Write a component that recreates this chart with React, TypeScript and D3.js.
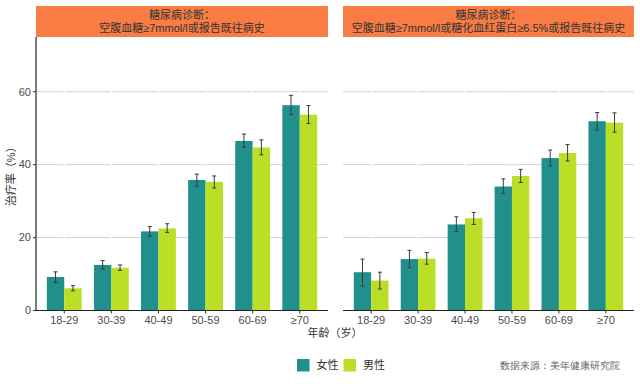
import React from "react";
import * as d3 from "d3";

const ageGroups = ["18-29", "30-39", "40-49", "50-59", "60-69", "≥70"];
const sexes = ["女性", "男性"];
const panelTitles = [
  ["糖尿病诊断：", "空腹血糖≥7mmol/l或报告既往病史"],
  ["糖尿病诊断：", "空腹血糖≥7mmol/l或糖化血红蛋白≥6.5%或报告既往病史"],
];

// panel 1
const p1Female = [9.2, 12.5, 21.7, 35.8, 46.5, 56.3];
const p1FemaleLo = [7.7, 11.4, 20.4, 34.1, 44.8, 53.7];
const p1FemaleHi = [10.6, 13.7, 23.0, 37.4, 48.4, 59.0];
const p1Male = [6.1, 11.7, 22.5, 35.3, 44.7, 53.7];
const p1MaleLo = [5.4, 11.0, 21.4, 33.6, 42.7, 51.3];
const p1MaleHi = [6.8, 12.5, 23.8, 36.9, 46.8, 56.2];
// panel 2
const p2Female = [10.5, 14.1, 23.6, 34.0, 41.8, 51.9];
const p2FemaleLo = [6.7, 11.7, 21.6, 32.1, 39.6, 49.5];
const p2FemaleHi = [14.1, 16.5, 25.7, 36.1, 44.0, 54.3];
const p2Male = [8.2, 14.2, 25.3, 36.9, 43.2, 51.5];
const p2MaleLo = [5.9, 12.7, 23.6, 35.1, 41.0, 48.9];
const p2MaleHi = [10.5, 15.9, 26.9, 38.7, 45.5, 54.2];

const yTicks = [0, 20, 40, 60];
const yLabel = "治疗率（%）";
const xLabel = "年龄（岁）";
const source = "数据来源：美年健康研究院";

const panels = [
  { female: p1Female, femaleLo: p1FemaleLo, femaleHi: p1FemaleHi, male: p1Male, maleLo: p1MaleLo, maleHi: p1MaleHi },
  { female: p2Female, femaleLo: p2FemaleLo, femaleHi: p2FemaleHi, male: p2Male, maleLo: p2MaleLo, maleHi: p2MaleHi },
];

const colors = ["#21908C", "#BBDF27"];
const stripColor = "#F97C44";
const font = "'Liberation Sans', 'Noto Sans CJK SC', Arial, sans-serif";

export default function App() {
  const W = 640, H = 384;
  const top = 37, bottom = 310.5;
  const panelX = [[36, 328], [343, 634]];
  const y = d3.scaleLinear().domain([0, 75]).range([bottom, top]);

  return (
    <svg width={W} height={H} style={{ position: "absolute", left: 0, top: 0, background: "#fff" }} fontFamily={font}>
      <rect width={W} height={H} fill="#fff" />
      {panels.map((p, pi) => {
        const [x0, x1] = panelX[pi];
        const x = d3.scalePoint<string>().domain(ageGroups).range([x0, x1]).padding(0.6);
        const step = x.step();
        const bw = step * 0.37;
        const series = [
          { v: p.female, lo: p.femaleLo, hi: p.femaleHi },
          { v: p.male, lo: p.maleLo, hi: p.maleHi },
        ];
        return (
          <g key={pi}>
            {/* strip */}
            <rect x={x0} y={6} width={x1 - x0} height={31} fill={stripColor} />
            {panelTitles[pi].map((t, i) => (
              <text key={i} x={(x0 + x1) / 2} y={15.6 + i * 12.7} dy="0.35em" textAnchor="middle" fontSize={11} fill="#333">
                {t}
              </text>
            ))}
            {/* grid */}
            {yTicks.filter((t) => t > 0).map((t) => (
              <line key={t} x1={x0} x2={x1} y1={y(t)} y2={y(t)} stroke="#d4d4d4" strokeWidth={1} />
            ))}
            {ageGroups.map((g) => (
              <line key={g} x1={x(g)!} x2={x(g)!} y1={top} y2={bottom} stroke="#fff" strokeWidth={1.5} />
            ))}
            {/* bars */}
            {series.map((s, si) =>
              ageGroups.map((g, gi) => {
                const bx = x(g)! + (si === 0 ? -bw : 0);
                const cx = bx + bw / 2;
                return (
                  <g key={`${si}-${gi}`}>
                    <rect x={bx} y={y(s.v[gi])} width={bw} height={y(0) - y(s.v[gi])} fill={colors[si]} />
                    <line x1={cx} x2={cx} y1={y(s.lo[gi])} y2={y(s.hi[gi])} stroke="#3a3a3a" strokeWidth={1} />
                    <line x1={cx - 2} x2={cx + 2} y1={y(s.lo[gi])} y2={y(s.lo[gi])} stroke="#3a3a3a" strokeWidth={1} />
                    <line x1={cx - 2} x2={cx + 2} y1={y(s.hi[gi])} y2={y(s.hi[gi])} stroke="#3a3a3a" strokeWidth={1} />
                  </g>
                );
              })
            )}
            {/* x axis */}
            <line x1={x0} x2={x1} y1={bottom} y2={bottom} stroke="#222" strokeWidth={1.2} />
            {ageGroups.map((g) => (
              <g key={g}>
                <line x1={x(g)!} x2={x(g)!} y1={bottom} y2={bottom + 3} stroke="#333" />
                <text x={x(g)!} y={320} dy="0.35em" textAnchor="middle" fontSize={11} fill="#4d4d4d">
                  {g}
                </text>
              </g>
            ))}
            {pi === 0 && (
              <g>
                <line x1={x0} x2={x0} y1={top} y2={bottom} stroke="#222" strokeWidth={1.2} />
                {yTicks.map((t) => (
                  <g key={t}>
                    <line x1={x0 - 3} x2={x0} y1={y(t)} y2={y(t)} stroke="#333" />
                    <text x={x0 - 5} y={y(t)} dy="0.35em" textAnchor="end" fontSize={11} fill="#4d4d4d">
                      {t}
                    </text>
                  </g>
                ))}
              </g>
            )}
          </g>
        );
      })}
      <text transform={`translate(11,${(top + bottom) / 2}) rotate(-90)`} textAnchor="middle" dy="0.35em" fontSize={11} fill="#333">
        {yLabel}
      </text>
      <text x={335} y={333} dy="0.35em" textAnchor="middle" fontSize={11} fill="#333">
        {xLabel}
      </text>
      {/* legend */}
      {sexes.map((s, i) => {
        const lx = 297 + i * 46.5;
        return (
          <g key={s}>
            <rect x={lx} y={359} width={12.5} height={12.5} fill={colors[i]} />
            <text x={lx + 19.5} y={365.5} dy="0.35em" fontSize={11} fill="#333">
              {s}
            </text>
          </g>
        );
      })}
      <text x={620} y={365.5} dy="0.35em" textAnchor="end" fontSize={9.5} fill="#666" fontFamily="serif">
        {source}
      </text>
    </svg>
  );
}
